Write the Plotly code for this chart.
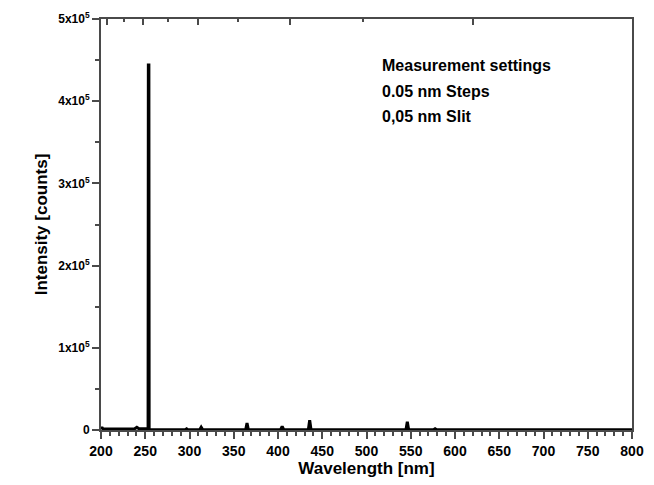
import plotly.graph_objects as go

# Spectrum (wavelength in nm, intensity in counts)
wavelength_nm = [200, 201, 202, 204, 225, 238, 240.5, 243, 250, 253.2,
                 253.5, 254.1, 254.4, 256, 295, 296.7, 298, 311.5, 313.2, 315,
                 363.5, 365.0, 366.5, 403, 404.7, 406.5, 434.3, 435.8, 437.3, 544.6,
                 546.1, 547.6, 575.5, 577.5, 579.5, 800]
intensity_counts = [1200, 3500, 1500, 1200, 1300, 1500, 3200, 1500, 1400, 1400,
                    444000, 444000, 900, 500, 400, 1500, 400, 400, 3500, 400,
                    400, 8500, 400, 400, 4500, 400, 400, 12000, 400, 400,
                    10000, 400, 300, 1500, 300, 200]

y_tickvals = [0, 100000, 200000, 300000, 400000, 500000]
y_ticktext = ["0", "1x10<sup>5</sup>", "2x10<sup>5</sup>", "3x10<sup>5</sup>",
              "4x10<sup>5</sup>", "5x10<sup>5</sup>"]

# top axis: photon energy (eV) ticks, no labels
ev_major = [2, 3, 4, 5, 6]
ev_minor = [2.5, 3.5, 4.5, 5.5]
HC = 1239.84
top_major = [HC / e for e in ev_major]
top_minor = [HC / e for e in ev_minor]

settings_lines = ["Measurement settings", "0.05 nm Steps", "0,05 nm Slit"]

FONT = "Liberation Sans"
AX = "#4a4a4a"

fig = go.Figure()
fig.add_trace(go.Scatter(
    x=wavelength_nm, y=intensity_counts, mode="lines",
    line=dict(color="black", width=3), showlegend=False, hoverinfo="x+y"))
fig.add_trace(go.Scatter(x=[], y=[], xaxis="x2", yaxis="y", showlegend=False))

fig.update_layout(
    width=654, height=485,
    margin=dict(l=101, r=20, t=10, b=54),
    paper_bgcolor="white", plot_bgcolor="white",
    font=dict(family=FONT, color="black"),
    xaxis=dict(
        range=[200, 800], tickmode="linear", tick0=200, dtick=50,
        ticks="outside", ticklen=7, tickwidth=1.5, tickcolor=AX,
        minor=dict(tickmode="linear", tick0=200, dtick=10, ticks="outside",
                   ticklen=4, tickwidth=1.5, tickcolor=AX),
        showline=True, linecolor=AX, linewidth=2, mirror=False,
        showgrid=False, zeroline=False,
        tickfont=dict(family=FONT, size=14, color="black", weight="bold"),
        title=dict(text="<b>Wavelength [nm]</b>", font=dict(family=FONT, size=17),
                   standoff=4),
    ),
    xaxis2=dict(
        overlaying="x", side="top", anchor="y", range=[200, 800],
        tickmode="array", tickvals=top_major, ticks="inside", ticklen=6,
        tickwidth=1.5, tickcolor=AX,
        minor=dict(tickmode="array", tickvals=top_minor, ticks="inside",
                   ticklen=3, tickwidth=1.5, tickcolor=AX),
        showticklabels=False, showline=True, linecolor=AX, linewidth=2,
        showgrid=False, zeroline=False,
    ),
    yaxis=dict(
        range=[0, 500000], tickmode="array", tickvals=y_tickvals, ticktext=y_ticktext,
        ticks="outside", ticklen=7, tickwidth=1.5, tickcolor=AX,
        minor=dict(tickmode="linear", tick0=0, dtick=50000, ticks="outside",
                   ticklen=4, tickwidth=1.5, tickcolor=AX),
        showline=True, linecolor=AX, linewidth=2, mirror=True,
        showgrid=False, zeroline=False,
        tickfont=dict(family=FONT, size=12, color="black", weight="bold"),
        title=dict(text="<b>Intensity [counts]</b>", font=dict(family=FONT, size=17),
                   standoff=6),
    ),
)

ys = [0.886, 0.823, 0.763]
for txt, yy in zip(settings_lines, ys):
    fig.add_annotation(
        text=f"<b>{txt}</b>", xref="paper", yref="paper", x=0.525, y=yy,
        xanchor="left", yanchor="middle", showarrow=False,
        font=dict(family=FONT, size=16, color="black"))

fig.write_html("out.html")
